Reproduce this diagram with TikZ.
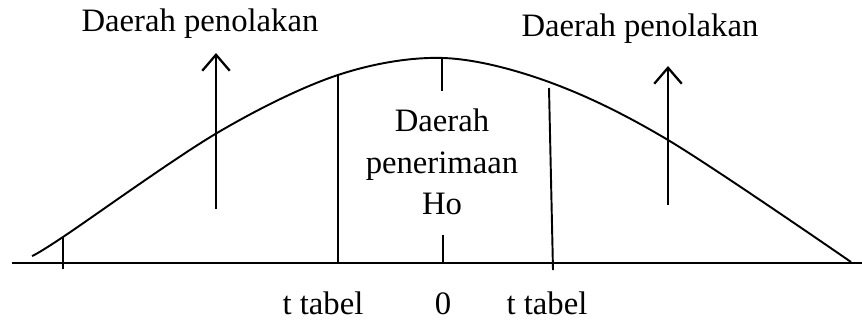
\documentclass[tikz,border=0pt]{standalone}
\usepackage{fontspec}
\setmainfont{Liberation Serif}
\usepackage{tikz}
\usetikzlibrary{arrows.meta, positioning, calc}
\tikzset{
  lbl/.style    = {font=\fontsize{18.6}{22}\selectfont, inner sep=0pt, anchor=base},
  midlbl/.style = {font=\fontsize{18.6}{23.8}\selectfont, inner sep=0pt, align=center, anchor=base},
  axis/.style   = {line width=1.3pt},
  curve/.style  = {line width=1.1pt},
  tick/.style   = {line width=1.1pt},
  upflow/.style = {-{Straight Barb[length=3.2mm, width=5.5mm, line width=1.3pt]}, line width=1.3pt},
}
\begin{document}
\begin{tikzpicture}[x=0.02cm, y=-0.02cm]
        \useasboundingbox (0,0) rectangle (862,320);
        % axis and curve
        \coordinate (axl) at (12,263);
        \coordinate (axr) at (862,263);
        \draw[axis] (axl) -- (axr);
        \draw[curve] plot[smooth, tension=0.55] coordinates {(32,256) (63,237) (217,133) (338,75) (443,58) (549,82) (668,140) (851,262)};
        % lines and ticks
        \coordinate (lt1) at (63,237);   \coordinate (lt2) at (63,269);
        \coordinate (ta1) at (338,75);   \coordinate (ta2) at (338,264);
        \coordinate (zt1) at (442,58);   \coordinate (zt2) at (442,91);
        \coordinate (zb1) at (443,235);  \coordinate (zb2) at (443,263);
        \coordinate (tb1) at (549,88);   \coordinate (tb2) at (553,270);
        \foreach \a/\b in {lt1/lt2, ta1/ta2, zt1/zt2, zb1/zb2, tb1/tb2}{\draw[tick] (\a) -- (\b);}
        % arrows
        \coordinate (la1) at (216,209);  \coordinate (la2) at (216,53);
        \coordinate (ra1) at (668,205);  \coordinate (ra2) at (668,66);
        \draw[upflow] (la1) -- (la2);
        \draw[upflow] (ra1) -- (ra2);
        % texts
        \node[lbl] (tolL) at (200,32) {Daerah penolakan};
        \node[lbl] (tolR) at (640,37) {Daerah penolakan};
        \node[midlbl] (terima) at (442,215) {Daerah\\penerimaan\\Ho};
        \node[lbl] (ttL) at (323,315) {t tabel};
        \node[lbl] (nol) at (443,315) {0};
        \node[lbl] (ttR) at (547,315) {t tabel};
    \end{tikzpicture}
\end{document}
